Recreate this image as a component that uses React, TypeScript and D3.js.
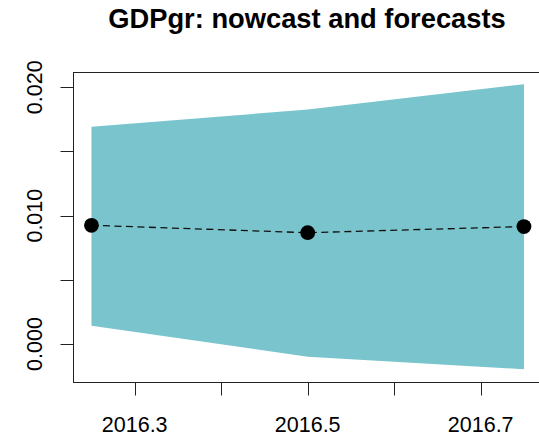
import React from "react";
import * as d3 from "d3";

const periods = [2016.25, 2016.5, 2016.75];
const nowcast = [0.00925, 0.00867, 0.00915];
const upper = [0.01692, 0.01827, 0.02024];
const lower = [0.001425, -0.000989, -0.00197];
const xTicks = [2016.3, 2016.4, 2016.5, 2016.6, 2016.7];
const xTickLabels = ["2016.3", "", "2016.5", "", "2016.7"];
const yTicks = [0, 0.005, 0.01, 0.015, 0.02];
const yTickLabels = ["0.000", "", "0.010", "", "0.020"];
const title = "GDPgr: nowcast and forecasts";

const W = 539;
const H = 440;
const box = { left: 73.5, top: 72.5, right: 545, bottom: 382.5 };

export default function App() {
  const x = d3.scaleLinear().domain([2016.3, 2016.7]).range([134.7, 480.7]);
  const y = d3.scaleLinear().domain([0, 0.02]).range([344, 87.3]);
  const idx = periods.map((_, i) => i);

  const area = d3
    .area<number>()
    .x((i) => x(periods[i]))
    .y0((i) => y(lower[i]))
    .y1((i) => y(upper[i]));
  const line = d3
    .line<number>()
    .x((i) => x(periods[i]))
    .y((i) => y(nowcast[i]));

  const font = "'Liberation Sans', Arial, sans-serif";
  const ink = "#222";

  return (
    <svg
      width={W}
      height={H}
      style={{ position: "absolute", left: 0, top: 0, background: "#fff" }}
      fontFamily={font}
    >
      <path d={area(idx) || ""} fill="#7AC5CD" stroke="none" />
      <path
        d={line(idx) || ""}
        fill="none"
        stroke="#111"
        strokeWidth={1.3}
        strokeDasharray="7,4.5"
      />
      {idx.map((i) => (
        <circle key={i} cx={x(periods[i])} cy={y(nowcast[i])} r={7.4} fill="#000" />
      ))}
      <rect
        x={box.left}
        y={box.top}
        width={box.right - box.left}
        height={box.bottom - box.top}
        fill="none"
        stroke={ink}
        strokeWidth={1}
      />
      {xTicks.map((t, i) => {
        const px = Math.round(x(t)) + 0.5;
        return (
          <g key={"x" + i}>
            <line x1={px} x2={px} y1={box.bottom} y2={box.bottom + 13} stroke={ink} strokeWidth={1} />
            {xTickLabels[i] && (
              <text x={x(t)} y={431.5} textAnchor="middle" fontSize={21.5} fill="#000">
                {xTickLabels[i]}
              </text>
            )}
          </g>
        );
      })}
      {yTicks.map((t, i) => {
        const py = Math.round(y(t)) + 0.5;
        return (
          <g key={"y" + i}>
            <line x1={box.left - 13} x2={box.left} y1={py} y2={py} stroke={ink} strokeWidth={1} />
            {yTickLabels[i] && (
              <text
                transform={`translate(41.5, ${y(t)}) rotate(-90)`}
                textAnchor="middle"
                fontSize={21.5}
                fill="#000"
              >
                {yTickLabels[i]}
              </text>
            )}
          </g>
        );
      })}
      <text x={307} y={28} textAnchor="middle" fontSize={27.3} fontWeight="bold" fill="#000">
        {title}
      </text>
    </svg>
  );
}
